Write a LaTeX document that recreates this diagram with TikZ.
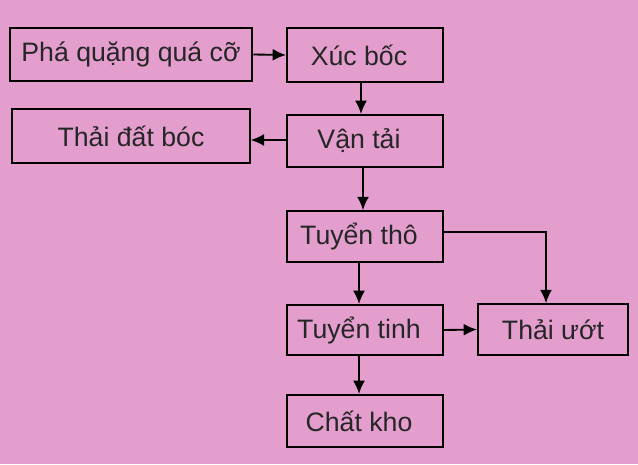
\documentclass[tikz,border=0pt]{standalone}
\usepackage{fontspec}
\setmainfont{Liberation Sans}
\usetikzlibrary{arrows.meta}
\definecolor{bgpink}{RGB}{228,158,206}
\begin{document}
\begin{tikzpicture}[x=0.75pt,y=-0.75pt,
  box/.style={draw=black,line width=1.5pt,rectangle,inner sep=0pt,
    font=\fontsize{20}{23}\selectfont,text=black!85},
  mid/.style={box,minimum width=117pt,execute at end node=\kern9pt},
  arr/.style={draw=black,line width=1.4pt,-{Latex[length=10pt,width=9pt]}}]
\fill[bgpink] (0,0) rectangle (638,464);
\useasboundingbox (0,0) rectangle (638,464);
\node[box,minimum width=182pt,minimum height=40pt] (pha) at (131,54.5) {Phá quặng quá cỡ};
\node[mid,minimum height=40pt] (xuc) at (365,55) {Xúc bốc};
\node[box,minimum width=178pt,minimum height=40.5pt] (thaidat) at (131,136) {Thải đất bóc};
\node[mid,minimum height=39pt] (van) at (365,141) {Vận tải};
\node[mid,minimum height=38pt] (tho) at (365,236.5) {Tuyển thô};
\node[mid,minimum height=37.5pt] (tinh) at (365,330) {Tuyển tinh};
\node[box,minimum width=112.5pt,minimum height=38pt] (uot) at (553,329.5) {Thải ướt};
\node[mid,minimum height=39pt] (kho) at (365,421) {Chất kho};
\coordinate (c1) at (361,0);
\coordinate (c2) at (363,0);
\coordinate (c3) at (359,0);
\coordinate (c4) at (546,0);
\coordinate (r1) at (0,140);
\coordinate (r2) at (0,232);
\draw[arr] (pha.east) -- (xuc.west);
\draw[arr] (xuc.south -| c1) -- (van.north -| c1);
\draw[arr] (van.west |- r1) -- (thaidat.east |- r1);
\draw[arr] (van.south -| c2) -- (tho.north -| c2);
\draw[arr] (tho.south -| c3) -- (tinh.north -| c3);
\draw[arr] (tinh.south -| c3) -- (kho.north -| c3);
\draw[arr] (tinh.east) -- (uot.west);
\draw[arr] (tho.east |- r2) -| (uot.north -| c4);
\end{tikzpicture}
\end{document}
